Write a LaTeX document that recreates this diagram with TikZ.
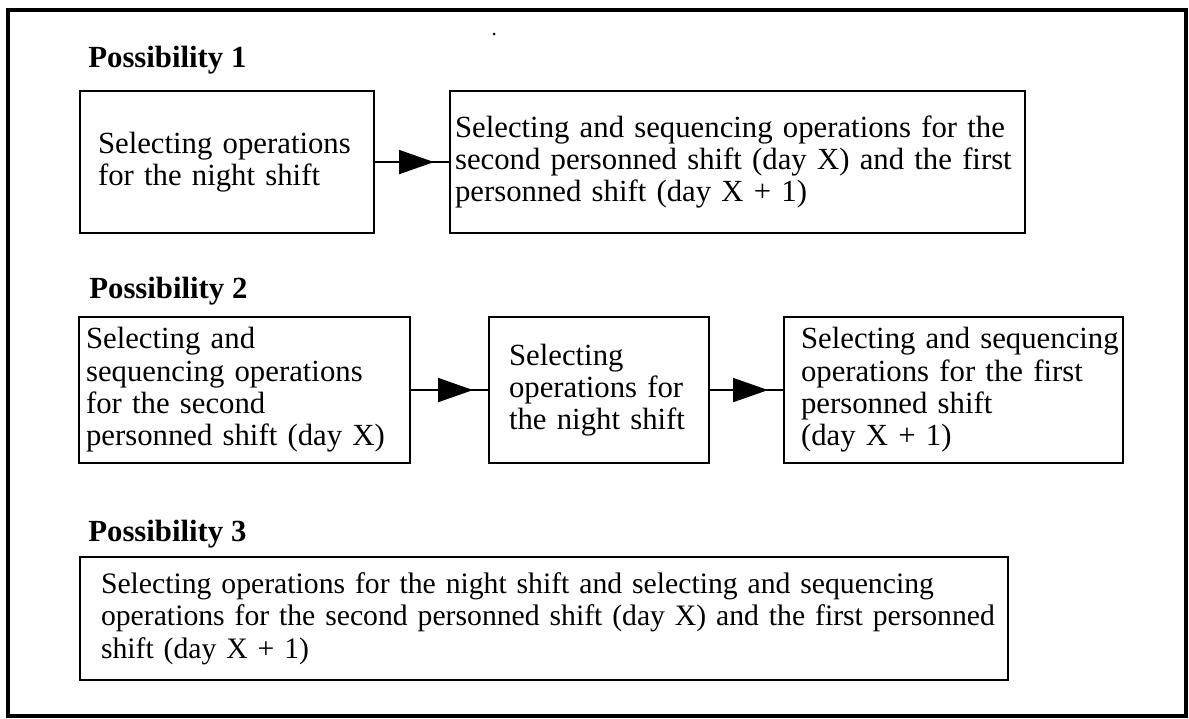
\documentclass[tikz,border=0pt]{standalone}
\usepackage{fontspec}
\setmainfont{Liberation Serif}
\usetikzlibrary{arrows.meta, decorations.markings}

\begin{document}
\begin{tikzpicture}[
    x=0.02cm, y=-0.02cm,
    outerframe/.style={line width=2pt},
    heading/.style={anchor=base west, inner sep=0pt, font=\fontsize{17.5}{18.4}\selectfont\bfseries},
    box/.style={draw, line width=1.2pt, anchor=north west, align=left, inner ysep=2pt, font=\fontsize{17.5}{18.4}\selectfont},
    flow/.style={line width=1.1pt, postaction={decorate},
        decoration={markings, mark=at position -0.3cm with {\arrow{Triangle[length=0.7cm, width=0.48cm]}}}}
]
    \useasboundingbox (0,0) rectangle (1189,718);

    % Frame
    \draw[outerframe] (8,10) rectangle (1186,716);
    \fill (494,34) circle (1.5);

    % Possibility 1
    \node[heading] (poss1) at (88,67) {Possibility 1};
    \node[box, minimum width=5.88cm, minimum height=2.84cm, inner xsep=0.36cm, text width=5.16cm] (night1) at (79,90)
        {Selecting operations\\for the night shift};
    \node[box, minimum width=11.5cm, minimum height=2.84cm, inner xsep=0.1cm, text width=11.3cm] (dayshifts1) at (449,90)
        {Selecting and sequencing operations for the\\second personned shift (day X) and the first\\personned shift (day X + 1)};

    \draw[flow] (night1) -- (dayshifts1);

    % Possibility 2
    \node[heading] (poss2) at (89,298) {Possibility 2};
    \node[box, minimum width=6.62cm, minimum height=2.92cm, inner xsep=0.14cm, text width=6.34cm] (dayx2) at (78,316)
        {Selecting and\\sequencing operations\\for the second\\personned shift (day X)};
    \node[box, minimum width=4.4cm, minimum height=2.92cm, inner xsep=0.4cm, text width=3.6cm] (night2) at (488,316)
        {Selecting\\operations for\\the night shift};
    \node[box, minimum width=6.78cm, minimum height=2.92cm, inner xsep=0.34cm, text width=6.1cm] (dayx12) at (783,316)
        {\mbox{Selecting and sequencing}\\operations for the first\\personned shift\\(day X + 1)};

    \draw[flow] (dayx2) -- (night2);
    \draw[flow] (night2) -- (dayx12);

    % Possibility 3
    \node[heading] (poss3) at (88,541) {Possibility 3};
    \node[box, font=\fontsize{16.9}{18.6}\selectfont, minimum width=18.56cm, minimum height=2.46cm, inner xsep=0.42cm, text width=17.72cm] (all3) at (79,556)
        {Selecting operations for the night shift and selecting and sequencing\\\mbox{operations for the second personned shift (day X) and the first personned}\\shift (day X + 1)};

\end{tikzpicture}
\end{document}
